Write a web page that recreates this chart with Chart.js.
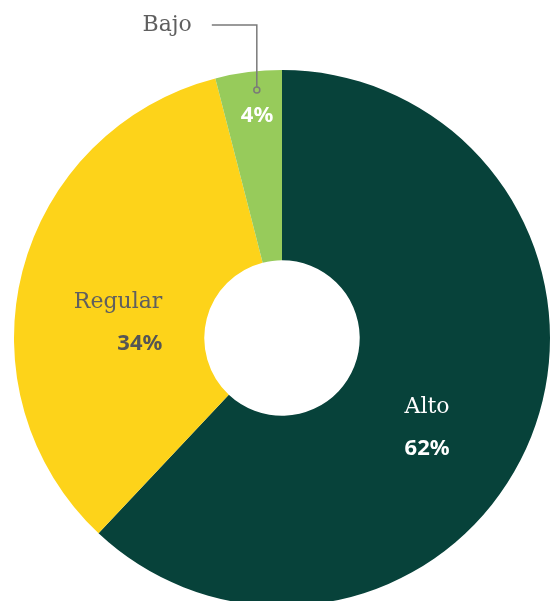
<!DOCTYPE html>
<html lang="es">
<head>
<meta charset="utf-8">
<title>Nivel</title>
<script src="https://cdn.jsdelivr.net/npm/chart.js@4.4.1/dist/chart.umd.min.js"></script>
<style>
  html, body { margin: 0; padding: 0; background: #fff; overflow: hidden; }
  #nivelChart { display: block; }
</style>
</head>
<body>
<canvas id="nivelChart" width="550" height="610"></canvas>
<script>
const categorias = ["Alto", "Regular", "Bajo"];
const porcentajes = [62, 34, 4];
const colores = ["#07423a", "#fdd31a", "#97cb5b"];

// where each slice's text goes: angle shift from the slice middle (deg) and fraction of radius
const posEtiquetas = [
  { shift: 10.2, r: 0.637, align: "center", nombre: "#ffffff", valor: "#ffffff" },
  { shift: -7.3, r: 0.45, align: "right", nombre: "#5f5f5f", valor: "#555555" },
  { shift: 0.8, r: 0.836, align: "center", nombre: "#5f5f5f", valor: "#ffffff" }
];

const fuenteNombre = "22px 'DejaVu Serif', serif";
const fuenteValor = "bold 22px 'Noto Sans', sans-serif";

function puntoEn(arc, shiftDeg, frac) {
  const ang = (arc.startAngle + arc.endAngle) / 2 + shiftDeg * Math.PI / 180;
  const r = arc.outerRadius * frac;
  return { x: arc.x + Math.cos(ang) * r, y: arc.y + Math.sin(ang) * r };
}

const etiquetasPlugin = {
  id: "etiquetas",
  afterDatasetsDraw(chart) {
    const ctx = chart.ctx;
    const arcs = chart.getDatasetMeta(0).data;
    ctx.save();
    ctx.textBaseline = "middle";
    arcs.forEach((arc, i) => {
      const cfg = posEtiquetas[i];
      const p = puntoEn(arc, cfg.shift, cfg.r);
      const texto = porcentajes[i] + "%";

      if (i === 2) {
        // small slice: value inside, name outside with a leader line
        ctx.textAlign = "center";
        ctx.font = fuenteValor;
        ctx.fillStyle = cfg.valor;
        ctx.fillText(texto, p.x, p.y);

        const dot = puntoEn(arc, 1.4, 0.93);
        const topY = 25;
        ctx.strokeStyle = "#7a7a7a";
        ctx.lineWidth = 1.5;
        ctx.beginPath();
        ctx.moveTo(dot.x, dot.y - 3);
        ctx.lineTo(dot.x, topY);
        ctx.lineTo(dot.x - 45, topY);
        ctx.stroke();
        ctx.beginPath();
        ctx.arc(dot.x, dot.y, 3, 0, Math.PI * 2);
        ctx.stroke();

        ctx.textAlign = "right";
        ctx.font = fuenteNombre;
        ctx.fillStyle = cfg.nombre;
        ctx.fillText(categorias[i], dot.x - 65, topY);
        return;
      }

      ctx.textAlign = cfg.align;
      ctx.font = fuenteNombre;
      ctx.fillStyle = cfg.nombre;
      ctx.fillText(categorias[i], p.x, p.y - 21);
      ctx.font = fuenteValor;
      ctx.fillStyle = cfg.valor;
      ctx.fillText(texto, p.x, p.y + 21);
    });
    ctx.restore();
  }
};

new Chart(document.getElementById("nivelChart"), {
  type: "doughnut",
  data: {
    labels: categorias,
    datasets: [{
      data: porcentajes,
      backgroundColor: colores,
      borderWidth: 0,
      hoverOffset: 0
    }]
  },
  options: {
    responsive: false,
    animation: false,
    cutout: "29%",
    layout: { padding: { left: 14, right: 0, top: 70, bottom: 4 } },
    plugins: {
      legend: { display: false },
      tooltip: { enabled: false }
    }
  },
  plugins: [etiquetasPlugin]
});
</script>
</body>
</html>
